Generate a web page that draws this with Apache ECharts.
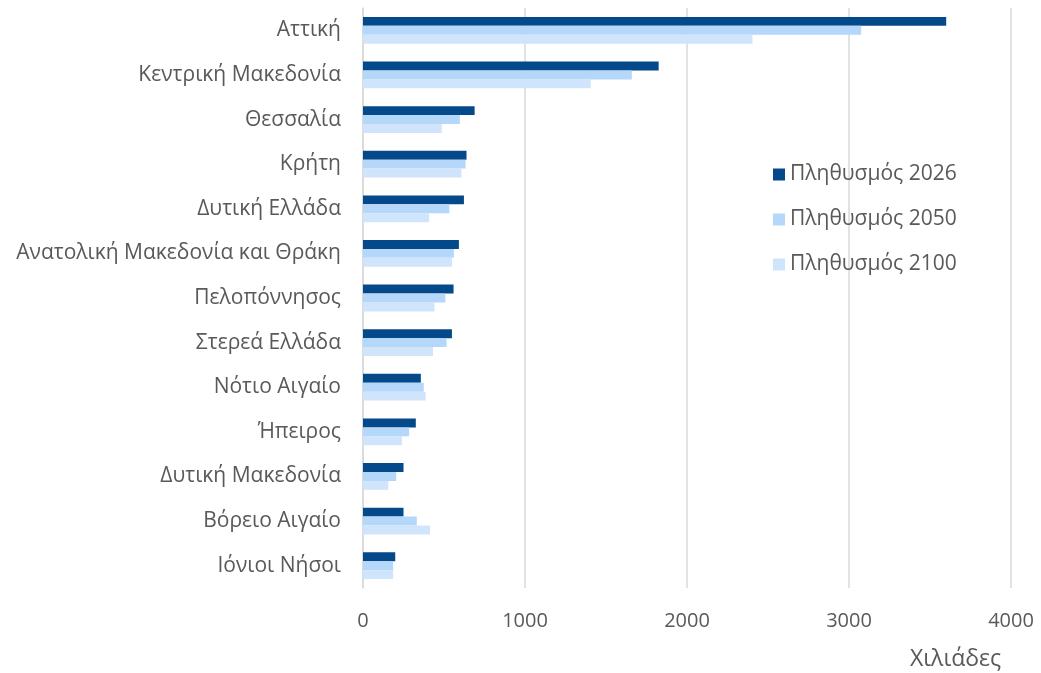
<!DOCTYPE html>
<html>
<head>
<meta charset="utf-8">
<script src="https://cdn.jsdelivr.net/npm/echarts@6/dist/echarts.min.js"></script>
<style>
html,body{margin:0;padding:0;background:#fff;}
#chart{width:1041px;height:673px;}
</style>
</head>
<body>
<div id="chart"></div>
<script>
const categories = ["Αττική","Κεντρική Μακεδονία","Θεσσαλία","Κρήτη","Δυτική Ελλάδα","Ανατολική Μακεδονία και Θράκη","Πελοπόννησος","Στερεά Ελλάδα","Νότιο Αιγαίο","Ήπειρος","Δυτική Μακεδονία","Βόρειο Αιγαίο","Ιόνιοι Νήσοι"];
const seriesNames = ["Πληθυσμός 2026","Πληθυσμός 2050","Πληθυσμός 2100"];
const pop2026 = [3600,1825,689,639,623,592,559,549,357,326,250,250,199];
const pop2050 = [3075,1659,598,633,533,561,508,516,375,285,205,332,186];
const pop2100 = [2404,1406,486,607,408,549,441,432,387,240,156,414,186];
const xTicks = [0,1000,2000,3000,4000];
const axisTitle = "Χιλιάδες";

const colors = ["#044a8a","#b4d7fa","#d0e5fb"];
const font = "'Open Sans', sans-serif";
const chart = echarts.init(document.getElementById('chart'));
const dataSets = [pop2026, pop2050, pop2100];
chart.setOption({
  animation:false,
  textStyle:{fontFamily:font},
  grid:{left:363,right:30,top:8,bottom:85,containLabel:false},
  legend:{
    orient:'vertical', left:768, top:159, itemGap:24,
    itemWidth:12, itemHeight:12, icon:'rect',
    textStyle:{color:'#595959',fontSize:21,lineHeight:21,fontFamily:font},
    data:seriesNames
  },
  xAxis:{
    type:'value', min:xTicks[0], max:xTicks[xTicks.length-1], interval:1000,
    axisLine:{show:false}, axisTick:{show:false},
    axisLabel:{color:'#595959',fontSize:20,margin:23,fontFamily:font,formatter:v=>String(v)},
    splitLine:{lineStyle:{color:'#d9d9d9',width:1.5}}
  },
  yAxis:{
    type:'category', data:categories, inverse:true,
    axisLine:{lineStyle:{color:'#d9d9d9',width:1.5}}, axisTick:{show:false},
    axisLabel:{color:'#595959',fontSize:21,margin:22,fontFamily:font}
  },
  graphic:[{type:'text',left:910,top:648,style:{text:axisTitle,fill:'#595959',font:"23px 'Open Sans', sans-serif"}}],
  series: seriesNames.map((n,i)=>({
    name:n, type:'bar', data:dataSets[i], barGap:'0%', barCategoryGap:'40%',
    itemStyle:{color:colors[i]}
  }))
});
</script>
</body>
</html>
